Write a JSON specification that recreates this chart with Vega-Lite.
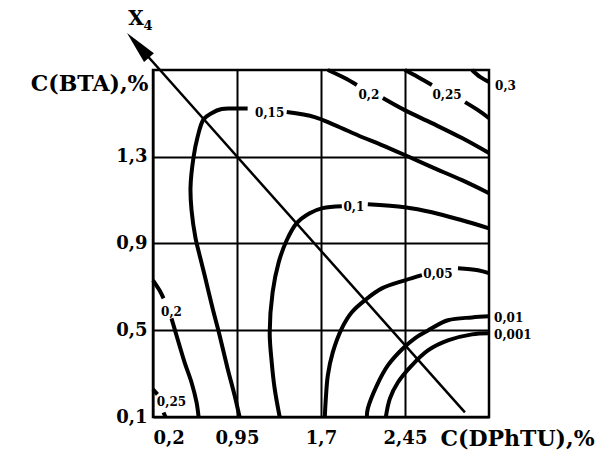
{
  "$schema": "https://vega.github.io/schema/vega-lite/v6.json",
  "autosize": {"type": "none"},
  "padding": {"left": 153, "top": 70, "right": 114, "bottom": 33},
  "width": 336,
  "height": 347,
  "background": "white",
  "config": {
    "view": {"stroke": "black", "strokeWidth": 2.5},
    "axis": {
      "domain": false,
      "ticks": false,
      "tickSize": 0,
      "grid": true,
      "gridColor": "black",
      "gridWidth": 2,
      "gridOpacity": 1,
      "labelFont": "DejaVu Serif",
      "labelFontWeight": "bold",
      "labelFontSize": 18,
      "labelColor": "black",
      "titleFont": "DejaVu Serif",
      "titleFontWeight": "bold",
      "titleFontSize": 22,
      "titleColor": "black"
    }
  },
  "datasets": {
    "contours": [
      {"seg": "0.15a", "i": 0, "x": 0.973, "y": 0.1},
      {"seg": "0.15a", "i": 1, "x": 0.929, "y": 0.199},
      {"seg": "0.15a", "i": 2, "x": 0.866, "y": 0.324},
      {"seg": "0.15a", "i": 3, "x": 0.795, "y": 0.476},
      {"seg": "0.15a", "i": 4, "x": 0.732, "y": 0.601},
      {"seg": "0.15a", "i": 5, "x": 0.661, "y": 0.754},
      {"seg": "0.15a", "i": 6, "x": 0.616, "y": 0.846},
      {"seg": "0.15a", "i": 7, "x": 0.58, "y": 0.924},
      {"seg": "0.15a", "i": 8, "x": 0.544, "y": 1.054},
      {"seg": "0.15a", "i": 9, "x": 0.535, "y": 1.16},
      {"seg": "0.15a", "i": 10, "x": 0.562, "y": 1.298},
      {"seg": "0.15a", "i": 11, "x": 0.598, "y": 1.391},
      {"seg": "0.15a", "i": 12, "x": 0.652, "y": 1.473},
      {"seg": "0.15a", "i": 13, "x": 0.723, "y": 1.501},
      {"seg": "0.15a", "i": 14, "x": 0.813, "y": 1.52},
      {"seg": "0.15a", "i": 15, "x": 0.92, "y": 1.522},
      {"seg": "0.15a", "i": 16, "x": 1.045, "y": 1.522},
      {"seg": "0.15b", "i": 0, "x": 1.394, "y": 1.506},
      {"seg": "0.15b", "i": 1, "x": 1.644, "y": 1.483},
      {"seg": "0.15b", "i": 2, "x": 1.823, "y": 1.446},
      {"seg": "0.15b", "i": 3, "x": 2.064, "y": 1.391},
      {"seg": "0.15b", "i": 4, "x": 2.243, "y": 1.354},
      {"seg": "0.15b", "i": 5, "x": 2.448, "y": 1.308},
      {"seg": "0.15b", "i": 6, "x": 2.69, "y": 1.252},
      {"seg": "0.15b", "i": 7, "x": 2.959, "y": 1.192},
      {"seg": "0.15b", "i": 8, "x": 3.2, "y": 1.132},
      {"seg": "0.2a", "i": 0, "x": 1.761, "y": 1.7},
      {"seg": "0.2a", "i": 1, "x": 1.912, "y": 1.663},
      {"seg": "0.2a", "i": 2, "x": 2.02, "y": 1.631},
      {"seg": "0.2b", "i": 0, "x": 2.252, "y": 1.571},
      {"seg": "0.2b", "i": 1, "x": 2.448, "y": 1.515},
      {"seg": "0.2b", "i": 2, "x": 2.69, "y": 1.455},
      {"seg": "0.2b", "i": 3, "x": 2.959, "y": 1.386},
      {"seg": "0.2b", "i": 4, "x": 3.2, "y": 1.317},
      {"seg": "0.25a", "i": 0, "x": 2.448, "y": 1.7},
      {"seg": "0.25a", "i": 1, "x": 2.565, "y": 1.668},
      {"seg": "0.25a", "i": 2, "x": 2.69, "y": 1.631},
      {"seg": "0.25b", "i": 0, "x": 2.986, "y": 1.552},
      {"seg": "0.25b", "i": 1, "x": 3.102, "y": 1.515},
      {"seg": "0.25b", "i": 2, "x": 3.2, "y": 1.478},
      {"seg": "0.3", "i": 0, "x": 3.048, "y": 1.7},
      {"seg": "0.3", "i": 1, "x": 3.12, "y": 1.668},
      {"seg": "0.3", "i": 2, "x": 3.2, "y": 1.645},
      {"seg": "0.1a", "i": 0, "x": 1.331, "y": 0.1},
      {"seg": "0.1a", "i": 1, "x": 1.286, "y": 0.232},
      {"seg": "0.1a", "i": 2, "x": 1.26, "y": 0.352},
      {"seg": "0.1a", "i": 3, "x": 1.242, "y": 0.49},
      {"seg": "0.1a", "i": 4, "x": 1.268, "y": 0.675},
      {"seg": "0.1a", "i": 5, "x": 1.322, "y": 0.813},
      {"seg": "0.1a", "i": 6, "x": 1.394, "y": 0.915},
      {"seg": "0.1a", "i": 7, "x": 1.483, "y": 0.994},
      {"seg": "0.1a", "i": 8, "x": 1.599, "y": 1.04},
      {"seg": "0.1a", "i": 9, "x": 1.715, "y": 1.063},
      {"seg": "0.1a", "i": 10, "x": 1.886, "y": 1.072},
      {"seg": "0.1b", "i": 0, "x": 2.118, "y": 1.081},
      {"seg": "0.1b", "i": 1, "x": 2.448, "y": 1.067},
      {"seg": "0.1b", "i": 2, "x": 2.69, "y": 1.044},
      {"seg": "0.1b", "i": 3, "x": 2.959, "y": 1.007},
      {"seg": "0.1b", "i": 4, "x": 3.2, "y": 0.97},
      {"seg": "0.05a", "i": 0, "x": 1.734, "y": 0.1},
      {"seg": "0.05a", "i": 1, "x": 1.743, "y": 0.185},
      {"seg": "0.05a", "i": 2, "x": 1.761, "y": 0.292},
      {"seg": "0.05a", "i": 3, "x": 1.805, "y": 0.398},
      {"seg": "0.05a", "i": 4, "x": 1.886, "y": 0.509},
      {"seg": "0.05a", "i": 5, "x": 1.975, "y": 0.583},
      {"seg": "0.05a", "i": 6, "x": 2.091, "y": 0.638},
      {"seg": "0.05a", "i": 7, "x": 2.243, "y": 0.693},
      {"seg": "0.05a", "i": 8, "x": 2.448, "y": 0.73},
      {"seg": "0.05a", "i": 9, "x": 2.601, "y": 0.754},
      {"seg": "0.05b", "i": 0, "x": 2.923, "y": 0.786},
      {"seg": "0.05b", "i": 1, "x": 3.102, "y": 0.777},
      {"seg": "0.05b", "i": 2, "x": 3.2, "y": 0.763},
      {"seg": "0.01", "i": 0, "x": 2.109, "y": 0.1},
      {"seg": "0.01", "i": 1, "x": 2.118, "y": 0.139},
      {"seg": "0.01", "i": 2, "x": 2.198, "y": 0.245},
      {"seg": "0.01", "i": 3, "x": 2.297, "y": 0.338},
      {"seg": "0.01", "i": 4, "x": 2.431, "y": 0.416},
      {"seg": "0.01", "i": 5, "x": 2.538, "y": 0.463},
      {"seg": "0.01", "i": 6, "x": 2.655, "y": 0.499},
      {"seg": "0.01", "i": 7, "x": 2.833, "y": 0.546},
      {"seg": "0.01", "i": 8, "x": 3.048, "y": 0.559},
      {"seg": "0.01", "i": 9, "x": 3.2, "y": 0.564},
      {"seg": "0.001", "i": 0, "x": 2.279, "y": 0.1},
      {"seg": "0.001", "i": 1, "x": 2.315, "y": 0.185},
      {"seg": "0.001", "i": 2, "x": 2.386, "y": 0.259},
      {"seg": "0.001", "i": 3, "x": 2.511, "y": 0.338},
      {"seg": "0.001", "i": 4, "x": 2.655, "y": 0.407},
      {"seg": "0.001", "i": 5, "x": 2.833, "y": 0.453},
      {"seg": "0.001", "i": 6, "x": 3.048, "y": 0.481},
      {"seg": "0.001", "i": 7, "x": 3.2, "y": 0.486},
      {"seg": "0.2La", "i": 0, "x": 0.2, "y": 0.73},
      {"seg": "0.2La", "i": 1, "x": 0.258, "y": 0.684},
      {"seg": "0.2La", "i": 2, "x": 0.294, "y": 0.647},
      {"seg": "0.2Lb", "i": 0, "x": 0.365, "y": 0.555},
      {"seg": "0.2Lb", "i": 1, "x": 0.41, "y": 0.476},
      {"seg": "0.2Lb", "i": 2, "x": 0.482, "y": 0.352},
      {"seg": "0.2Lb", "i": 3, "x": 0.544, "y": 0.259},
      {"seg": "0.2Lb", "i": 4, "x": 0.589, "y": 0.167},
      {"seg": "0.2Lb", "i": 5, "x": 0.607, "y": 0.1},
      {"seg": "0.25La", "i": 0, "x": 0.2, "y": 0.227},
      {"seg": "0.25La", "i": 1, "x": 0.24, "y": 0.204},
      {"seg": "0.25Lb", "i": 0, "x": 0.294, "y": 0.121},
      {"seg": "0.25Lb", "i": 1, "x": 0.312, "y": 0.1}
    ],
    "diagonal": [
      {"i": 0, "x": 0.066, "y": 1.814},
      {"i": 1, "x": 2.985, "y": 0.121}
    ],
    "arrowhead": [
      {"x": 0.066, "y": 1.814}
    ],
    "levels": [
      {"t": "0,15", "x": 1.242, "y": 1.5, "side": "in"},
      {"t": "0,2", "x": 2.127, "y": 1.584, "side": "in"},
      {"t": "0,25", "x": 2.825, "y": 1.584, "side": "in"},
      {"t": "0,1", "x": 1.993, "y": 1.067, "side": "in"},
      {"t": "0,05", "x": 2.744, "y": 0.758, "side": "in"},
      {"t": "0,2", "x": 0.365, "y": 0.583, "side": "in"},
      {"t": "0,25", "x": 0.365, "y": 0.167, "side": "in"},
      {"t": "0,3", "x": 3.254, "y": 1.626, "side": "out"},
      {"t": "0,01", "x": 3.245, "y": 0.555, "side": "out"},
      {"t": "0,001", "x": 3.245, "y": 0.476, "side": "out"}
    ],
    "factor": [
      {"t": "X", "x": 0.048, "y": 1.933},
      {"t": "4", "x": 0.155, "y": 1.903}
    ]
  },
  "layer": [
    {
      "data": {"name": "contours"},
      "mark": {"type": "line", "color": "black", "strokeWidth": 4, "interpolate": "catmull-rom", "strokeCap": "butt"},
      "encoding": {
        "x": {
          "field": "x", "type": "quantitative",
          "scale": {"domain": [0.2, 3.2], "nice": false, "zero": false},
          "axis": {
            "orient": "bottom",
            "values": [0.2, 0.95, 1.7, 2.45],
            "labelExpr": "replace(format(datum.value, '.2~f'), '.', ',')",
            "labelBaseline": "middle",
            "labelPadding": 21,
            "title": "C(DPhTU),%",
            "titleAlign": "left",
            "titleBaseline": "middle",
            "titleX": 287,
            "titleY": 21
          }
        },
        "y": {
          "field": "y", "type": "quantitative",
          "scale": {"domain": [0.1, 1.7], "nice": false, "zero": false},
          "axis": {
            "orient": "left",
            "values": [0.1, 0.5, 0.9, 1.3],
            "labelExpr": "replace(format(datum.value, '.1f'), '.', ',')",
            "labelPadding": 6,
            "title": "C(BTA),%",
            "titleAngle": 0,
            "titleAlign": "right",
            "titleBaseline": "middle",
            "titleX": -5,
            "titleY": 13
          }
        },
        "detail": {"field": "seg"},
        "order": {"field": "i"}
      }
    },
    {
      "data": {"name": "diagonal"},
      "mark": {"type": "line", "color": "black", "strokeWidth": 2.5},
      "encoding": {
        "x": {"field": "x", "type": "quantitative"},
        "y": {"field": "y", "type": "quantitative"},
        "order": {"field": "i"}
      }
    },
    {
      "data": {"name": "arrowhead"},
      "mark": {"type": "point", "shape": "M0,-1L0.4,1L-0.4,1Z", "size": 1089, "angle": 318.3, "filled": true, "color": "black", "opacity": 1},
      "encoding": {
        "x": {"field": "x", "type": "quantitative"},
        "y": {"field": "y", "type": "quantitative"}
      }
    },
    {
      "data": {"name": "levels"},
      "transform": [{"filter": "datum.side == 'in'"}],
      "mark": {"type": "text", "font": "DejaVu Serif", "fontWeight": "bold", "fontSize": 12, "color": "black", "align": "center", "baseline": "middle"},
      "encoding": {
        "x": {"field": "x", "type": "quantitative"},
        "y": {"field": "y", "type": "quantitative"},
        "text": {"field": "t"}
      }
    },
    {
      "data": {"name": "levels"},
      "transform": [{"filter": "datum.side == 'out'"}],
      "mark": {"type": "text", "font": "DejaVu Serif", "fontWeight": "bold", "fontSize": 12, "color": "black", "align": "left", "baseline": "middle"},
      "encoding": {
        "x": {"field": "x", "type": "quantitative"},
        "y": {"field": "y", "type": "quantitative"},
        "text": {"field": "t"}
      }
    },
    {
      "data": {"name": "factor"},
      "transform": [{"filter": "datum.t == 'X'"}],
      "mark": {"type": "text", "font": "DejaVu Serif", "fontWeight": "bold", "fontSize": 20, "color": "black", "align": "center", "baseline": "middle"},
      "encoding": {
        "x": {"field": "x", "type": "quantitative"},
        "y": {"field": "y", "type": "quantitative"},
        "text": {"field": "t"}
      }
    },
    {
      "data": {"name": "factor"},
      "transform": [{"filter": "datum.t == '4'"}],
      "mark": {"type": "text", "font": "DejaVu Serif", "fontWeight": "bold", "fontSize": 13, "color": "black", "align": "center", "baseline": "middle"},
      "encoding": {
        "x": {"field": "x", "type": "quantitative"},
        "y": {"field": "y", "type": "quantitative"},
        "text": {"field": "t"}
      }
    }
  ]
}
